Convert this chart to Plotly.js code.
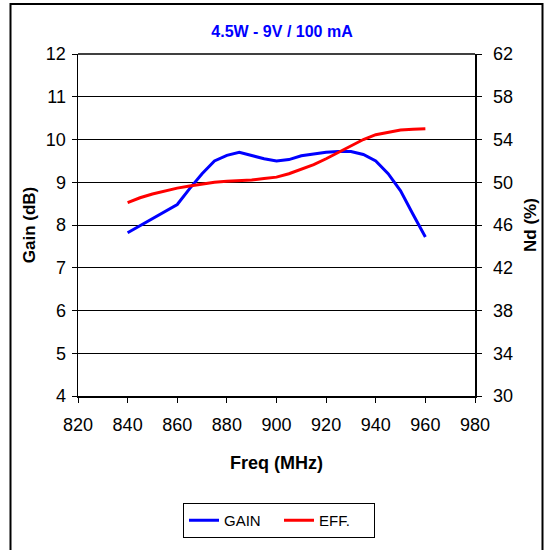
<!DOCTYPE html>
<html>
<head>
<meta charset="utf-8">
<script src="https://cdn.plot.ly/plotly-3.0.1.min.js"></script>
<style>html,body{margin:0;padding:0;background:#fff;}#chart{width:550px;height:550px;}</style>
</head>
<body>
<div id="chart"></div>
<script>
var freq = [840,845,850,855,860,865,870,875,880,885,890,895,900,905,910,915,920,925,930,935,940,945,950,955,960];
var gain = [7.82,7.98,8.15,8.3,8.48,8.85,9.2,9.5,9.63,9.7,9.63,9.55,9.5,9.53,9.62,9.66,9.7,9.72,9.72,9.65,9.5,9.2,8.8,8.25,7.72];
var eff  = [48.1,48.55,48.9,49.2,49.45,49.65,49.85,50.0,50.1,50.15,50.22,50.35,50.48,50.8,51.2,51.65,52.2,52.8,53.4,54.0,54.45,54.7,54.88,54.95,55.0];
var titleText = "4.5W - 9V / 100 mA";
var xTitle = "Freq (MHz)";
var yTitle = "Gain (dB)";
var y2Title = "Nd (%)";

var fam = "Liberation Sans, Arial, sans-serif";
var tickFont = {family: fam, size: 18, color: "#000"};
var axTitleFont = {family: fam, size: 17, color: "#000"};

var traces = [
  {x: freq, y: gain, name: "GAIN", mode: "lines", line: {color: "#0000ff", width: 3}, yaxis: "y"},
  {x: freq, y: eff, name: "EFF.", mode: "lines", line: {color: "#ff0000", width: 3}, yaxis: "y2"}
];

var L = 78, R = 475, T = 54, B = 396;
var W = 550, H = 550;
var pw = R - L, ph = B - T;
function px(x){ return (x - L) / pw; }
function py(y){ return (B - y) / ph; }

var layout = {
  width: W, height: H,
  margin: {l: L, r: W - R, t: T, b: H - B, pad: 0},
  paper_bgcolor: "#fff", plot_bgcolor: "#fff",
  font: {family: fam, color: "#000", size: 15},
  showlegend: true,
  title: {text: "<b>" + titleText + "</b>", font: {family: fam, size: 16, color: "#0000ff"}, x: px(282), xref: "paper", xanchor: "center", y: 1 - 31/H, yanchor: "middle"},
  xaxis: {
    range: [820, 980], tick0: 820, dtick: 20, tickmode: "linear",
    showgrid: false, zeroline: false,
    showline: true, linecolor: "#000", linewidth: 1.5,
    ticks: "outside", ticklen: 5, tickcolor: "#000", tickwidth: 1,
    ticklabelstandoff: 7,
    tickfont: tickFont,
    title: {text: "<b>" + xTitle + "</b>", font: {family: fam, size: 18, color: "#000"}, standoff: 22}
  },
  yaxis: {
    range: [4, 12], dtick: 1, tick0: 4, tickmode: "linear",
    showgrid: true, gridcolor: "#000", gridwidth: 1, zeroline: false,
    showline: true, linecolor: "#000", linewidth: 1.5,
    ticks: "outside", ticklen: 5, tickcolor: "#000", tickwidth: 1,
    ticklabelstandoff: 2,
    tickfont: tickFont,
    title: {text: "<b>" + yTitle + "</b>", font: axTitleFont, standoff: 6}
  },
  yaxis2: {
    range: [30, 62], dtick: 4, tick0: 30, tickmode: "linear",
    overlaying: "y", side: "right",
    showgrid: false, zeroline: false,
    showline: true, linecolor: "#000", linewidth: 1.5,
    ticks: "outside", ticklen: 5, tickcolor: "#000", tickwidth: 1,
    ticklabelstandoff: 8,
    tickfont: tickFont,
    title: {text: "<b>" + y2Title + "</b>", font: axTitleFont, standoff: 12}
  },
  legend: {
    orientation: "h", x: px(279), xanchor: "center", y: py(520.5), yanchor: "middle",
    bordercolor: "#000", borderwidth: 1, bgcolor: "#fff",
    font: {family: fam, size: 15, color: "#000"},
    entrywidth: 50, entrywidthmode: "pixels",
    itemwidth: 30, tracegroupgap: 0
  },
  shapes: [
    {type: "line", xref: "paper", yref: "paper", x0: 0, x1: 1, y0: 1, y1: 1, line: {color: "#000", width: 1.5}},
    {type: "rect", xref: "paper", yref: "paper", x0: px(10.5), x1: px(542.5), y0: py(4), y1: py(560), line: {color: "#000", width: 2}, fillcolor: "rgba(0,0,0,0)"}
  ]
};

Plotly.newPlot("chart", traces, layout, {displayModeBar: false, staticPlot: true});
</script>
</body>
</html>
